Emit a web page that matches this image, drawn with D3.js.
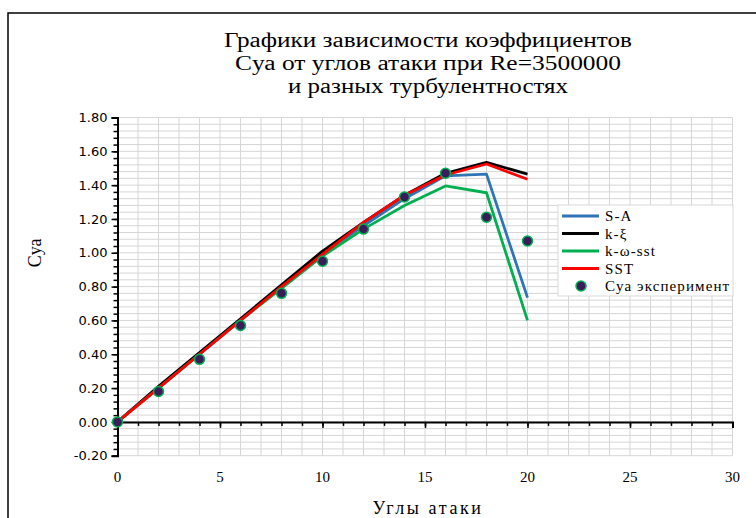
<!DOCTYPE html>
<html>
<head>
<meta charset="utf-8">
<script src="https://cdn.jsdelivr.net/npm/d3@7"></script>
<style>
body { margin: 0; background: #fff; }
</style>
</head>
<body>
<div id="chart"></div>
<script>
var angles = [0, 2, 4, 6, 8, 10, 12, 14, 16, 18, 20];
var seriesNames = ["S-A", "k-ξ", "k-ω-sst", "SST"];
var sa     = [0, 0.20, 0.40, 0.60, 0.80, 0.99, 1.16, 1.32, 1.455, 1.465, 0.735];
var kxi    = [0, 0.21, 0.41, 0.61, 0.81, 1.01, 1.18, 1.34, 1.47, 1.535, 1.465];
var kwsst  = [0, 0.20, 0.40, 0.60, 0.79, 0.98, 1.14, 1.28, 1.395, 1.355, 0.60];
var sst    = [0, 0.20, 0.40, 0.60, 0.80, 0.99, 1.18, 1.34, 1.46, 1.525, 1.435];
var experiment = [0, 0.18, 0.37, 0.57, 0.76, 0.95, 1.14, 1.33, 1.47, 1.21, 1.07];
var expName = "Cуа эксперимент";
var titleLines = ["Графики зависимости коэффициентов", "Cуа от углов атаки при Re=3500000", "и разных турбулентностях"];
var yTicks = [-0.2, 0, 0.2, 0.4, 0.6, 0.8, 1.0, 1.2, 1.4, 1.6, 1.8];
var xTicks = [0, 5, 10, 15, 20, 25, 30];

var width = 756, height = 518;
var colors = ["#2e75b6", "#000000", "#00b050", "#ff0000"];
var lineData = [sa, kxi, kwsst, sst];
var titleWidths = [408, 386, 280]; // measured widths of the title lines

var svg = d3.select("#chart").append("svg")
	.attr("width", width)
	.attr("height", height);

// outer frame (right and bottom edges fall outside the picture)
svg.append("rect")
	.attr("x", 8).attr("y", 13)
	.attr("width", 760).attr("height", 520)
	.attr("fill", "#fff")
	.attr("stroke", "#000")
	.attr("stroke-width", 1.5);

var x = d3.scaleLinear().domain([0, 30]).range([117.5, 732.5]);
var y = d3.scaleLinear().domain([-0.2, 1.8]).range([455.7, 117.5]);

// grid
var grid = svg.append("g");
grid.selectAll(".vg")
	.data(d3.range(0, 31, 1))
	.enter().append("line")
	.attr("x1", d => x(d)).attr("x2", d => x(d))
	.attr("y1", y(1.8)).attr("y2", y(-0.2))
	.attr("stroke", "#d6d6d6").attr("stroke-width", 1);
grid.selectAll(".hg")
	.data(d3.range(0, 51, 1).map(i => -0.2 + i * 0.04))
	.enter().append("line")
	.attr("x1", x(0)).attr("x2", x(30))
	.attr("y1", d => y(d)).attr("y2", d => y(d))
	.attr("stroke", "#d6d6d6").attr("stroke-width", 1);

// y axis
var yAxis = d3.axisLeft(y).tickValues(yTicks).tickSize(6)
	.tickFormat(d => d3.format(".2f")(d).replace("−", "-"));
var yg = svg.append("g").attr("transform", "translate(" + x(0) + ",0)").call(yAxis);
yg.select(".domain").attr("stroke", "#000").attr("stroke-width", 2);
yg.selectAll(".tick line").attr("stroke", "#000").attr("stroke-width", 1.5);
yg.selectAll(".tick text")
	.attr("x", -10)
	.style("font-family", "DejaVu Sans, Verdana, sans-serif")
	.style("font-size", "13px")
	.attr("fill", "#000");
var yMinor = d3.axisLeft(y).tickValues(d3.range(0, 51, 1).map(i => -0.2 + i * 0.04)).tickSize(4).tickFormat("");
var ym = svg.append("g").attr("transform", "translate(" + x(0) + ",0)").call(yMinor);
ym.select(".domain").remove();
ym.selectAll(".tick line").attr("stroke", "#000").attr("stroke-width", 1.5);

// x axis at y = 0
var xAxis = d3.axisBottom(x).tickValues(xTicks).tickSize(6).tickFormat("");
var xg = svg.append("g").attr("transform", "translate(0," + y(0) + ")").call(xAxis);
xg.select(".domain").attr("stroke", "#000").attr("stroke-width", 2);
xg.selectAll(".tick line").attr("stroke", "#000").attr("stroke-width", 1.5);
var xMinor = d3.axisBottom(x).tickValues(d3.range(0, 31, 1)).tickSize(4).tickFormat("");
var xm = svg.append("g").attr("transform", "translate(0," + y(0) + ")").call(xMinor);
xm.select(".domain").remove();
xm.selectAll(".tick line").attr("stroke", "#000").attr("stroke-width", 1.5);

// x tick labels below plot
svg.selectAll(".xlab")
	.data(xTicks)
	.enter().append("text")
	.attr("x", d => x(d))
	.attr("y", 482)
	.attr("text-anchor", "middle")
	.style("font-family", "Liberation Serif, Times New Roman, serif")
	.style("font-size", "15px")
	.text(d => d);

// lines
var line = d3.line()
	.x((d, i) => x(angles[i]))
	.y(d => y(d));
svg.selectAll(".series")
	.data(lineData)
	.enter().append("path")
	.attr("d", line)
	.attr("fill", "none")
	.attr("stroke", (d, i) => colors[i])
	.attr("stroke-width", 2.8)
	.attr("stroke-linejoin", "round");

// experiment markers
svg.selectAll(".pt")
	.data(experiment)
	.enter().append("circle")
	.attr("cx", (d, i) => x(angles[i]))
	.attr("cy", d => y(d))
	.attr("r", 5)
	.attr("fill", "#3b1c5a")
	.attr("stroke", "#00b050")
	.attr("stroke-width", 1.5);

// title
svg.selectAll(".title")
	.data(titleLines)
	.enter().append("text")
	.attr("x", 428)
	.attr("y", (d, i) => 47 + i * 23)
	.attr("text-anchor", "middle")
	.attr("textLength", (d, i) => titleWidths[i])
	.attr("lengthAdjust", "spacingAndGlyphs")
	.style("font-family", "Liberation Serif, Times New Roman, serif")
	.style("font-size", "20px")
	.text(d => d);

// axis titles
svg.append("text")
	.attr("x", 428).attr("y", 514)
	.attr("text-anchor", "middle")
	.style("font-family", "Liberation Serif, Times New Roman, serif")
	.style("font-size", "18px")
	.style("letter-spacing", "2.6px")
	.text("Углы атаки");
svg.append("text")
	.attr("transform", "translate(41," + y(1.0) + ") rotate(-90)")
	.attr("text-anchor", "middle")
	.style("font-family", "Liberation Serif, Times New Roman, serif")
	.style("font-size", "18px")
	.text("Cуа");

// legend
var lg = svg.append("g").attr("transform", "translate(558,205)");
lg.append("rect")
	.attr("width", 175).attr("height", 91)
	.attr("fill", "#fff")
	.attr("stroke", "#d9d9d9");
var items = lg.selectAll(".item")
	.data(seriesNames.concat([expName]))
	.enter().append("g")
	.attr("transform", (d, i) => "translate(0," + (11 + i * 17.5) + ")");
items.filter((d, i) => i < 4).append("line")
	.attr("x1", 4).attr("x2", 41)
	.attr("stroke", (d, i) => colors[i])
	.attr("stroke-width", 2.8);
items.filter((d, i) => i == 4).append("circle")
	.attr("cx", 23).attr("r", 5)
	.attr("fill", "#3b1c5a")
	.attr("stroke", "#00b050")
	.attr("stroke-width", 1.5);
items.append("text")
	.attr("x", 47).attr("dy", "0.35em")
	.style("font-family", "Liberation Serif, Times New Roman, serif")
	.style("font-size", "15px")
	.style("letter-spacing", "1.1px")
	.text(d => d);
</script>
</body>
</html>
